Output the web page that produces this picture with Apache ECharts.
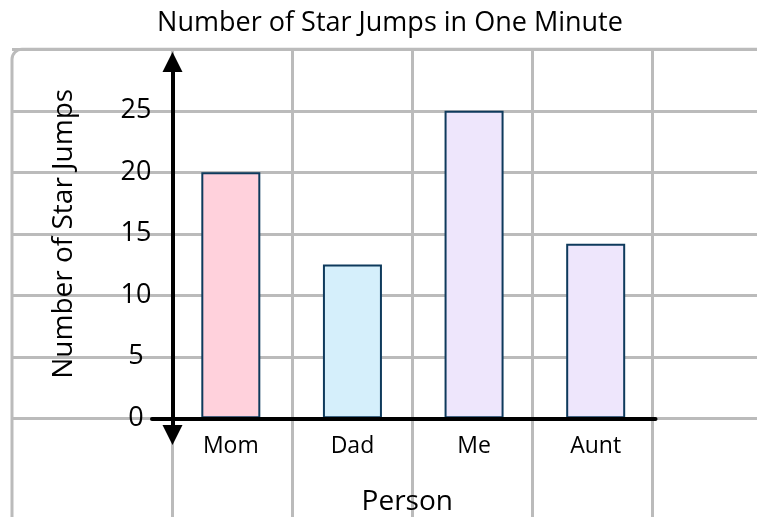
<!DOCTYPE html>
<html>
<head>
<meta charset="utf-8">
<script src="https://cdn.jsdelivr.net/npm/echarts@6/dist/echarts.min.js"></script>
<style>html,body{margin:0;padding:0;background:#fff}#c{width:757px;height:517px}</style>
</head>
<body>
<div id="c"></div>
<script>
const categories = ['Mom', 'Dad', 'Me', 'Aunt'];
const starJumps = [20, 12.5, 25, 14.2];
const yTicks = [0, 5, 10, 15, 20, 25, 30];

const barColors = ['#FFD1DC', '#D5EFFB', '#EEE6FC', '#EEE6FC'];
const FONT = 'Open Sans';
const GRID_GRAY = '#BBBBBB';

const chart = echarts.init(document.getElementById('c'), null, {renderer: 'canvas'});
const yMin = yTicks[0], yMax = yTicks[yTicks.length - 1], yStep = yTicks[1] - yTicks[0];

const hidden = {show: false};
const noBounds = {outerBoundsMode: 'none', containLabel: false};
chart.setOption({
  animation: false,
  textStyle: {fontFamily: FONT},
  title: {
    text: 'Number of Star Jumps in One Minute',
    left: 385, top: 5, textAlign: 'center',
    textStyle: {fontFamily: FONT, fontSize: 27, fontWeight: 500, color: '#000'}
  },
  graphic: [{
    type: 'rect', z: 0, silent: true,
    shape: {x: 12, y: 49.3, width: 820, height: 600, r: [10, 0, 0, 0]},
    style: {fill: 'none', stroke: GRID_GRAY, lineWidth: 3}
  }],
  grid: [
    Object.assign({left: 170, top: 49.3, width: 486.5, bottom: 98.7}, noBounds),   // main
    Object.assign({left: 12, top: 49.3, width: 820, bottom: 98.7}, noBounds),      // horizontal bg lines
    Object.assign({left: 172, top: 49.3, width: 480, bottom: -20}, noBounds),      // vertical bg lines
    Object.assign({left: 152, top: 49.3, width: 503.5, bottom: 98.7}, noBounds),   // x axis line
    Object.assign({left: 172.5, top: 62, width: 10, bottom: 82}, noBounds)         // y arrow axis
  ],
  xAxis: [
    {
      gridIndex: 0, type: 'category', data: categories,
      axisLine: hidden, axisTick: hidden, splitLine: hidden,
      axisLabel: {fontFamily: FONT, fontSize: 23, fontWeight: 500, color: '#000', margin: 17},
      name: 'Person', nameLocation: 'middle', nameGap: 70,
      nameTextStyle: {fontFamily: FONT, fontSize: 28, fontWeight: 500, color: '#000', padding: [0, 12, 0, 0]}
    },
    {gridIndex: 1, type: 'value', show: false},
    {
      gridIndex: 2, type: 'value', min: 0, max: 4, interval: 1,
      axisLine: hidden, axisTick: hidden, axisLabel: hidden,
      splitLine: {show: true, lineStyle: {color: GRID_GRAY, width: 3}}
    },
    {
      gridIndex: 3, type: 'value', min: 0, max: 1, z: 10,
      axisLine: {show: true, lineStyle: {color: '#000', width: 4}},
      axisTick: hidden, axisLabel: hidden, splitLine: hidden
    },
    {gridIndex: 4, type: 'value', show: false}
  ],
  yAxis: [
    {
      gridIndex: 0, type: 'value', min: yMin, max: yMax, interval: yStep,
      axisLine: hidden, axisTick: hidden, splitLine: hidden,
      axisLabel: {
        fontFamily: FONT, fontSize: 27, fontWeight: 500, color: '#000', align: 'center', margin: 34,
        formatter: v => (v === yMax ? '' : String(v))
      },
      name: 'Number of Star Jumps', nameLocation: 'middle', nameGap: 92,
      nameTextStyle: {fontFamily: FONT, fontSize: 28, fontWeight: 500, color: '#000'}
    },
    {
      gridIndex: 1, type: 'value', min: yMin, max: yMax, interval: yStep,
      axisLine: hidden, axisTick: hidden, axisLabel: hidden,
      splitLine: {show: true, lineStyle: {color: GRID_GRAY, width: 3}}
    },
    {gridIndex: 2, type: 'value', show: false},
    {gridIndex: 3, type: 'value', show: false},
    {
      gridIndex: 4, type: 'value', min: 0, max: 1, z: 10,
      axisLine: {
        show: true, lineStyle: {color: '#000', width: 4},
        symbol: ['triangle', 'triangle'], symbolSize: [20, 20]
      },
      axisTick: hidden, axisLabel: hidden, splitLine: hidden
    }
  ],
  series: [{
    type: 'bar', xAxisIndex: 0, yAxisIndex: 0, z: 3,
    barWidth: 59,
    data: starJumps.map((v, i) => ({
      value: v,
      itemStyle: {color: barColors[i], borderColor: '#0E3A5C', borderWidth: 2}
    }))
  }]
});
</script>
</body>
</html>
